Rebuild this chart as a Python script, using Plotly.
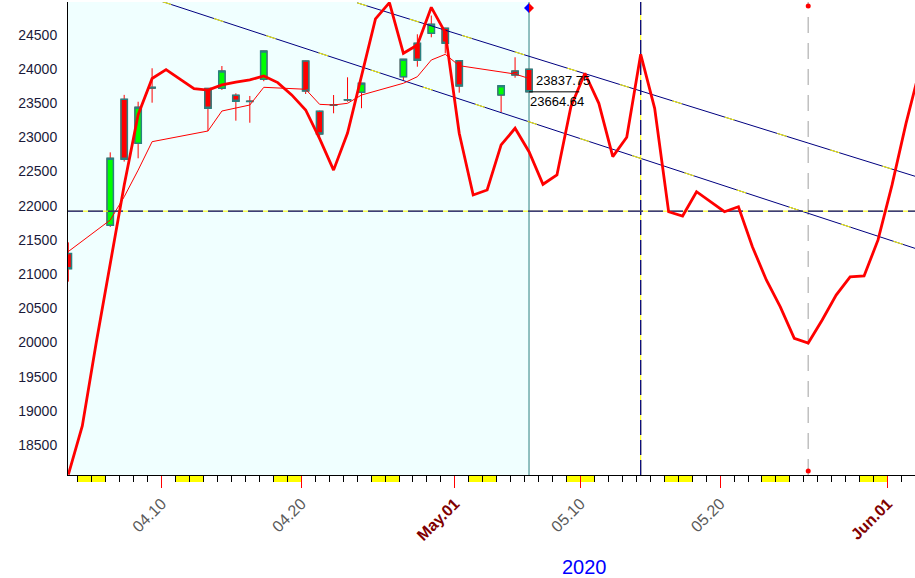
import pandas as pd
import plotly.graph_objects as go

# ---------------- data ----------------
candle_dates = ["2020-04-03", "2020-04-06", "2020-04-07", "2020-04-08", "2020-04-09",
                "2020-04-13", "2020-04-14", "2020-04-15", "2020-04-16", "2020-04-17",
                "2020-04-20", "2020-04-21", "2020-04-22", "2020-04-23", "2020-04-24",
                "2020-04-27", "2020-04-28", "2020-04-29", "2020-04-30", "2020-05-01",
                "2020-05-04", "2020-05-05", "2020-05-06"]
open_vals = [21300, 21715, 23555, 22912, 23730, 23715, 23716, 23614, 23528, 23850,
             24115, 23380, 23470, 23545, 23660, 23886, 24374, 24520, 24594, 24120,
             23618, 23969, 23994]
high_vals = [21464, 22780, 23620, 23520, 24009, 23720, 24042, 23643, 23604, 24265,
             24120, 23390, 23618, 23877, 23795, 24145, 24506, 24780, 24600, 24125,
             23760, 24170, 24000]
low_vals = [20890, 21690, 22645, 22693, 23506, 23090, 23692, 23243, 23213, 23820,
            23633, 23010, 23351, 23520, 23425, 23838, 24032, 24462, 24228, 23652,
            23365, 23871, 23660]
close_vals = [21080, 22693, 22680, 23439, 23720, 23425, 23969, 23526, 23525, 24262,
              23677, 23048, 23475, 23550, 23790, 24140, 24125, 24652, 24374, 23750,
              23755, 23911, 23664.64]
ma_vals = [21330, 21790, 22130, 22520, 22936, 23092, 23384, 23424, 23472, 23731,
           23702, 23482, 23472, 23497, 23618, 23790, 23886, 24130, 24213, 24047,
           23959, 23925, 23860]

forecast_start = "2020-04-03"
forecast_vals = [18070, 18780, 20000, 21160, 22300, 23330, 23860, 23990, 23850, 23710,
                 23690, 23765, 23805, 23840, 23896, 23800, 23620, 23400, 22980, 22520,
                 23063, 23880, 24730, 24968, 24228, 24349, 24900, 24530, 23060, 22157,
                 22230, 22888, 23132, 22789, 22313, 22449, 23447, 23936, 23497, 22717,
                 23000, 24213, 23424, 21912, 21849, 22205, 22059, 21912, 21985, 21400,
                 20914, 20520, 20060, 19993, 20329, 20694, 20960, 20972, 21500, 22300,
                 23200, 24000]

level_value = 21920
chan_a_dates = ["2020-04-10", "2020-06-03"]
chan_a_vals = [24987, 21374]
chan_b_dates = ["2020-04-24", "2020-06-03"]
chan_b_vals = [24966, 22428]

turn_date = "2020-05-14"
target_date = "2020-05-26"
label_upper = 23837.75
label_close = 23664.64

tick_dates = ["2020-04-10", "2020-04-20", "2020-05-01", "2020-05-10", "2020-05-20", "2020-06-01"]
tick_labels = ["04.10", "04.20", "May.01", "05.10", "05.20", "Jun.01"]
tick_is_month = [False, False, True, False, False, True]
y_ticks = list(range(18500, 25000, 500))
year_label = "2020"

x_range = ["2020-04-03 06:55", "2020-06-02 23:03"]
y_range = [18063, 24978]

# ---------------- derived ----------------
offset = pd.Timedelta(hours=7.5)
cx = pd.to_datetime(candle_dates) + offset
fx = pd.date_range(forecast_start, periods=len(forecast_vals), freq="D") + offset
last_x = cx[-1]
turn_x = pd.Timestamp(turn_date) + offset
target_x = pd.Timestamp(target_date) + offset
body_hi = [max(o, c) for o, c in zip(open_vals, close_vals)]
body_lo = [min(o, c) for o, c in zip(open_vals, close_vals)]

NAVY = "#000080"
YEL = "#FFFF00"
TEAL = "#2A8080"
FONT = "Arial, Liberation Sans"

fig = go.Figure()

# channel lines
for dts, vals in [(chan_a_dates, chan_a_vals), (chan_b_dates, chan_b_vals)]:
    fig.add_trace(go.Scatter(x=pd.to_datetime(dts), y=vals, mode="lines",
                             line=dict(color=NAVY, width=1), hoverinfo="skip"))
    fig.add_trace(go.Scatter(x=pd.to_datetime(dts), y=vals, mode="lines",
                             line=dict(color=YEL, width=1, dash="10px,45px"), hoverinfo="skip"))

# candles: wicks (red)
fig.add_trace(go.Candlestick(
    x=cx, open=open_vals, high=high_vals, low=low_vals, close=close_vals,
    increasing=dict(line=dict(color="#FF0000", width=1), fillcolor="#FF0000"),
    decreasing=dict(line=dict(color="#FF0000", width=1), fillcolor="#FF0000"),
    whiskerwidth=0, hoverinfo="skip"))
# candle bodies (teal outline)
fig.add_trace(go.Candlestick(
    x=cx, open=open_vals, high=body_hi, low=body_lo, close=close_vals,
    increasing=dict(line=dict(color=TEAL, width=1.5), fillcolor="#00FF00"),
    decreasing=dict(line=dict(color=TEAL, width=1.5), fillcolor="#FF0000"),
    whiskerwidth=0, hoverinfo="skip"))

# moving average
fig.add_trace(go.Scatter(x=cx, y=ma_vals, mode="lines",
                         line=dict(color="#FF0000", width=1), hoverinfo="skip"))

# horizontal level
hx = pd.to_datetime(x_range)
fig.add_trace(go.Scatter(x=hx, y=[level_value, level_value], mode="lines",
                         line=dict(color=YEL, width=1), hoverinfo="skip"))
fig.add_trace(go.Scatter(x=hx, y=[level_value, level_value], mode="lines",
                         line=dict(color=NAVY, width=1.3, dash="15px,5px"), hoverinfo="skip"))

# forecast line
fig.add_trace(go.Scatter(x=fx, y=forecast_vals, mode="lines",
                         line=dict(color="#FF0000", width=2.8), hoverinfo="skip"))

shapes = []
# history background
shapes.append(dict(type="rect", xref="x", yref="paper", x0=hx[0], x1=last_x, y0=0, y1=1,
                   fillcolor="#F0FFFF", line=dict(width=0), layer="below"))
# weekend markers below the axis
for sat in pd.date_range("2020-04-01", "2020-06-02", freq="W-SAT"):
    shapes.append(dict(type="rect", xref="x", yref="paper", x0=sat, x1=sat + pd.Timedelta(days=2),
                       y0=-7 / 473, y1=-1 / 473, fillcolor=YEL, line=dict(width=0), layer="below"))
# vertical lines
shapes.append(dict(type="line", xref="x", yref="paper", x0=last_x, x1=last_x, y0=0, y1=1,
                   line=dict(color=TEAL, width=1), layer="below"))
shapes.append(dict(type="line", xref="x", yref="paper", x0=turn_x, x1=turn_x, y0=0, y1=1,
                   line=dict(color=YEL, width=1), layer="below"))
shapes.append(dict(type="line", xref="x", yref="paper", x0=turn_x, x1=turn_x, y0=0, y1=1,
                   line=dict(color=NAVY, width=1.3, dash="15px,5px"), layer="below"))
shapes.append(dict(type="line", xref="x", yref="paper", x0=target_x, x1=target_x, y0=0, y1=1,
                   line=dict(color="#C0C0C0", width=1.5, dash="16px,10px"), layer="below"))
# red dots on target line
shapes.append(dict(type="circle", xref="x", yref="paper", xsizemode="pixel", ysizemode="pixel",
                   xanchor=target_x, yanchor=1, x0=-2.5, x1=2.5, y0=-6.5, y1=-1.5,
                   fillcolor="#FF0000", line=dict(width=0)))
shapes.append(dict(type="circle", xref="x", yref="paper", xsizemode="pixel", ysizemode="pixel",
                   xanchor=target_x, yanchor=0, x0=-2.5, x1=2.5, y0=1.5, y1=6.5,
                   fillcolor="#FF0000", line=dict(width=0)))
# diamond on current-day line
shapes.append(dict(type="path", xref="x", yref="paper", xsizemode="pixel", ysizemode="pixel",
                   xanchor=last_x, yanchor=1, path="M -5,-6 L 0,-1 L 0,-11 Z",
                   fillcolor="#0000FF", line=dict(width=0)))
shapes.append(dict(type="path", xref="x", yref="paper", xsizemode="pixel", ysizemode="pixel",
                   xanchor=last_x, yanchor=1, path="M 5,-6 L 0,-1 L 0,-11 Z",
                   fillcolor="#FF0000", line=dict(width=0)))
# underline of close label
shapes.append(dict(type="line", xref="x", yref="y", x0=last_x, x1=last_x + pd.Timedelta(days=3.6),
                   y0=label_close, y1=label_close, line=dict(color="#000000", width=1)))

annotations = [
    dict(x=last_x, y=label_upper, xref="x", yref="y", text=f"{label_upper:.2f}",
         showarrow=False, xanchor="left", yanchor="middle", xshift=5,
         font=dict(family=FONT, size=13, color="#000000")),
    dict(x=last_x, y=label_close, xref="x", yref="y", text=f"{label_close:.2f}",
         showarrow=False, xanchor="left", yanchor="top", xshift=-1,
         font=dict(family=FONT, size=13, color="#000000")),
    dict(x=0.61, y=-0.195, xref="paper", yref="paper", text=year_label, showarrow=False,
         xanchor="center", yanchor="middle",
         font=dict(family=FONT, size=20, color="#0000FF")),
]

tick_text = [f"<b><span style='color:#800000'>{t}</span></b>" if m else t
             for t, m in zip(tick_labels, tick_is_month)]

fig.update_layout(
    width=915, height=578,
    margin=dict(l=68, r=0, t=2, b=103),
    paper_bgcolor="#FFFFFF", plot_bgcolor="#FFFFFF",
    showlegend=False, boxgap=0.35, boxmode="overlay",
    shapes=shapes, annotations=annotations,
    xaxis=dict(type="date", range=x_range, rangeslider=dict(visible=False),
               showgrid=False, zeroline=False, showline=True, linecolor="#000000", linewidth=1,
               tickmode="array", tickvals=tick_dates, ticktext=tick_text, tickangle=-45,
               ticks="outside", ticklen=12, tickcolor="#FF0000", tickwidth=1,
               tickfont=dict(family=FONT, size=16, color="#5A5A5A"),
               minor=dict(ticks="outside", ticklen=6, tickcolor="#000000", tickwidth=1,
                          dtick=86400000, tick0="2020-04-01", showgrid=False)),
    yaxis=dict(range=y_range, tickmode="array", tickvals=y_ticks,
               ticktext=[str(v) for v in y_ticks], ticks="",
               showgrid=False, zeroline=False, showline=True, linecolor="#000000", linewidth=1,
               ticklabelstandoff=7,
               tickfont=dict(family=FONT, size=14, color="#1A1A3A")),
)

fig.write_html("out.html", config={"displayModeBar": False},
               post_script="document.body.style.margin='0';")
